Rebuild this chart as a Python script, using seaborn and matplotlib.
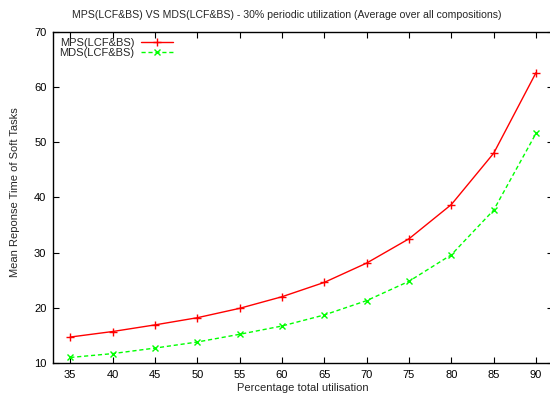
import matplotlib
matplotlib.use("Agg")
import matplotlib.pyplot as plt
import seaborn as sns
import pandas as pd

utilisation = [35, 40, 45, 50, 55, 60, 65, 70, 75, 80, 85, 90]
mps = [14.7, 15.7, 16.9, 18.2, 19.9, 22.0, 24.6, 28.1, 32.5, 38.7, 48.0, 62.6]
mds = [11.0, 11.7, 12.7, 13.8, 15.2, 16.7, 18.7, 21.3, 24.8, 29.6, 37.7, 51.6]
series_names = ["MPS(LCF&BS)", "MDS(LCF&BS)"]
y_ticks = [10, 20, 30, 40, 50, 60, 70]

sns.set_style("ticks")
plt.rcParams["font.family"] = ["Liberation Sans", "DejaVu Sans"]
plt.rcParams["font.size"] = 8

df = pd.DataFrame({
    "util": utilisation * 2,
    "resp": mps + mds,
    "series": [series_names[0]] * len(mps) + [series_names[1]] * len(mds),
})

fig = plt.figure(figsize=(5.5, 4.01), dpi=100)
ax = fig.add_axes([53.3 / 550, 1 - 363 / 401, (553 - 53.3) / 550, (363 - 31.7) / 401])

styles = {
    series_names[0]: dict(color="#ff0000", marker="+", linestyle="-", ms=5.5),
    series_names[1]: dict(color="#00ff00", marker="x", linestyle=(0, (3, 2)), ms=4.5),
}
for name in series_names:
    st = styles[name]
    sns.lineplot(data=df[df["series"] == name], x="util", y="resp", ax=ax,
                 color=st["color"], marker=st["marker"], linestyle=st["linestyle"],
                 linewidth=1.0, markersize=st["ms"], markeredgewidth=1.0,
                 markeredgecolor=st["color"], label=name)

ax.set_xlim(33, 92)
ax.set_ylim(10, 70)
ax.set_xticks(utilisation)
ax.set_yticks(y_ticks)
ax.tick_params(direction="in", length=4, width=0.8, top=True, right=True,
               labelsize=8, colors="black", pad=5)
ax.tick_params(axis="y", pad=5)
for s in ax.spines.values():
    s.set_linewidth(1.0)
    s.set_color("black")
    s.set_visible(True)

ax.set_xlabel("")
ax.set_ylabel("")
fig.text(303 / 550, 1 - 388 / 401, "Percentage total utilisation", ha="center", va="center", fontsize=8)
fig.text(15 / 550, 1 - 192 / 401, "Mean Reponse Time of Soft Tasks", ha="center", va="center",
         rotation=90, fontsize=8)
fig.text(287 / 550, 1 - 15 / 401, "MPS(LCF&BS) VS MDS(LCF&BS) - 30% periodic utilization (Average over all compositions)",
         ha="center", va="center", fontsize=7.6)

leg = ax.legend(loc="upper left", frameon=False, markerfirst=False, handlelength=2.9,
                handletextpad=0.55, borderaxespad=0.35, labelspacing=0.05, fontsize=8,
                borderpad=0.2)

fig.savefig("out.png", dpi=100)
